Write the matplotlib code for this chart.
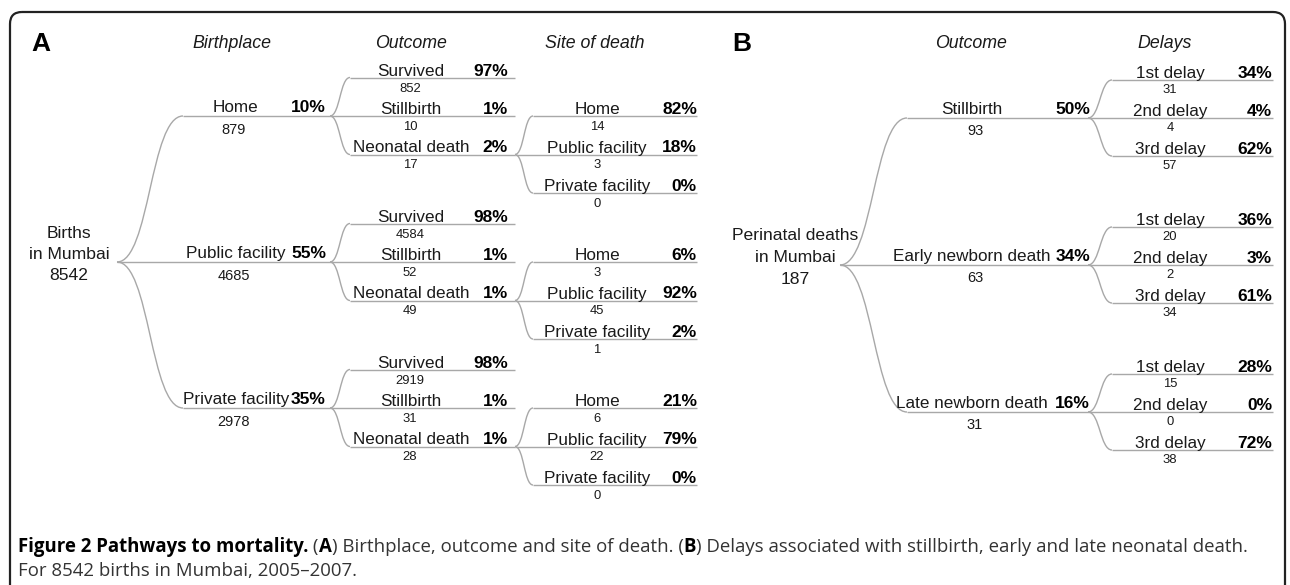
import matplotlib
matplotlib.use("Agg")
import matplotlib.pyplot as plt
from matplotlib.path import Path
from matplotlib.patches import PathPatch, FancyBboxPatch

# ---------------- data ----------------
root_a = ["Births", "in Mumbai", "8542"]
birthplace_labels = ["Home", "Public facility", "Private facility"]
birthplace_pct = [10, 55, 35]
birthplace_n = [879, 4685, 2978]
outcome_labels = ["Survived", "Stillbirth", "Neonatal death"]
outcome_pct = [[97, 1, 2], [98, 1, 1], [98, 1, 1]]
outcome_n = [[852, 10, 17], [4584, 52, 49], [2919, 31, 28]]
site_labels = ["Home", "Public facility", "Private facility"]
site_pct = [[82, 18, 0], [6, 92, 2], [21, 79, 0]]
site_n = [[14, 3, 0], [3, 45, 1], [6, 22, 0]]
headers_a = ["Birthplace", "Outcome", "Site of death"]

root_b = ["Perinatal deaths", "in Mumbai", "187"]
b_outcome_labels = ["Stillbirth", "Early newborn death", "Late newborn death"]
b_outcome_pct = [50, 34, 16]
b_outcome_n = [93, 63, 31]
delay_labels = ["1st delay", "2nd delay", "3rd delay"]
delay_pct = [[34, 4, 62], [36, 3, 61], [28, 0, 72]]
delay_n = [[31, 4, 57], [20, 2, 34], [15, 0, 38]]
headers_b = ["Outcome", "Delays"]

caption_bold = "Figure 2 Pathways to mortality."
caption_parts = [(" (", False), ("A", True), (") Birthplace, outcome and site of death. (", False),
                 ("B", True), (") Delays associated with stillbirth, early and late neonatal death.", False)]
caption_line2 = "For 8542 births in Mumbai, 2005\u20132007."

# ---------------- figure ----------------
W, H = 1290, 585
fig = plt.figure(figsize=(W / 100, H / 100), dpi=100)
ax = fig.add_axes([0, 0, 1, 1])
ax.set_xlim(0, W)
ax.set_ylim(H, 0)
ax.axis("off")

FONT = ["Liberation Sans", "DejaVu Sans"]
LINE_C = "#a8a8a8"
TXT_C = "#1a1a1a"
LBL = 12.3
PCT = 12.5
CNT1 = 10.5
CNT2 = 9.4

# border
ax.add_patch(FancyBboxPatch((10, 12), 1275, 620, boxstyle="round,pad=0,rounding_size=12",
                            fill=False, ec="#222222", lw=1.6))


def link(x0, y0, x1, y1):
    dx = x1 - x0
    verts = [(x0, y0), (x0 + dx * 0.5, y0), (x1 - dx * 0.5, y1), (x1, y1)]
    codes = [Path.MOVETO, Path.CURVE4, Path.CURVE4, Path.CURVE4]
    ax.add_patch(PathPatch(Path(verts, codes), fill=False, ec=LINE_C, lw=1.0))


def branch(xb, yb, xs, xe, ys):
    for y in ys:
        if abs(y - yb) < 0.5:
            ax.plot([xb, xe], [y, y], color=LINE_C, lw=1.0, solid_capstyle="butt")
        else:
            link(xb, yb, xs, y)
            ax.plot([xs, xe], [y, y], color=LINE_C, lw=1.0, solid_capstyle="butt")


def node_text(y, lbl, pct, n, xc, xr, xn, base_off, cnt_off, cnt_size):
    ax.text(xc, y - base_off, lbl, ha="center", va="baseline", fontsize=LBL,
            family=FONT, color=TXT_C)
    ax.text(xr, y - base_off, f"{pct}%", ha="right", va="baseline", fontsize=PCT,
            family=FONT, weight="bold", color="black")
    ax.text(xn, y + cnt_off, f"{n}", ha="center", va="center", fontsize=cnt_size,
            family=FONT, color=TXT_C)


def root_text(xc, y, lines):
    for i, s in enumerate(lines):
        ax.text(xc, y - 29 + i * 21.5, s, ha="center", va="center", fontsize=12.6,
                family=FONT, color=TXT_C)


# ---------------- panel A ----------------
ax.text(41, 44, "A", ha="center", va="center", fontsize=19, weight="bold", family=FONT)
for s, x in zip(headers_a, [232, 411, 595]):
    ax.text(x, 43, s, ha="center", va="center", fontsize=12.8, style="italic",
            family=FONT, color=TXT_C)

rootA = (117, 262)
root_text(69, rootA[1], root_a)
l1_gap, l2_gap = 146, 38.5
l1_y = [rootA[1] + (i - 1) * l1_gap for i in range(3)]
branch(rootA[0], rootA[1], 183, 330, l1_y)
for i, y1 in enumerate(l1_y):
    node_text(y1, birthplace_labels[i], birthplace_pct[i], birthplace_n[i],
              236, 326, 234, 4, 14, CNT1)
    l2_y = [y1 + (j - 1) * l2_gap for j in range(3)]
    branch(330, y1, 350, 515, l2_y)
    for j, y2 in enumerate(l2_y):
        node_text(y2, outcome_labels[j], outcome_pct[i][j], outcome_n[i][j],
                  411, 508, 410, 2, 11, CNT2)
    # site of death branches from the neonatal death line
    yd = l2_y[2]
    l3_y = [yd + (k - 1) * l2_gap for k in range(3)]
    branch(515, yd, 533, 697, l3_y)
    for k, y3 in enumerate(l3_y):
        node_text(y3, site_labels[k], site_pct[i][k], site_n[i][k],
                  597, 697, 597, 2, 11, CNT2)

# ---------------- panel B ----------------
ax.text(742, 44, "B", ha="center", va="center", fontsize=19, weight="bold", family=FONT)
for s, x in zip(headers_b, [971, 1165]):
    ax.text(x, 43, s, ha="center", va="center", fontsize=12.8, style="italic",
            family=FONT, color=TXT_C)

rootB = (840, 265)
root_text(795, rootB[1], root_b)
lb_gap, lb2_gap = 147, 38
lb_y = [rootB[1] + (i - 1) * lb_gap for i in range(3)]
branch(rootB[0], rootB[1], 907, 1088, lb_y)
for i, y1 in enumerate(lb_y):
    node_text(y1, b_outcome_labels[i], b_outcome_pct[i], b_outcome_n[i],
              972, 1090, 975, 4, 13, CNT1)
    l2_y = [y1 + (j - 1) * lb2_gap for j in range(3)]
    branch(1088, y1, 1112, 1273, l2_y)
    for j, y2 in enumerate(l2_y):
        node_text(y2, delay_labels[j], delay_pct[i][j], delay_n[i][j],
                  1170, 1272, 1170, 2, 10, CNT2)

# ---------------- caption ----------------
CAP_FONT = ["Open Sans", "DejaVu Sans"]
CAP = 13.4
fig.canvas.draw()
r = fig.canvas.get_renderer()
inv = ax.transData.inverted()
x = 18
t = ax.text(x, 547, caption_bold, ha="left", va="center", fontsize=CAP, weight="bold",
            family=CAP_FONT, color="black")
bb = t.get_window_extent(renderer=r)
x = inv.transform((bb.x1, bb.y0))[0]
for s, b in caption_parts:
    t = ax.text(x, 547, s, ha="left", va="center", fontsize=CAP,
                weight="bold" if b else "normal", family=CAP_FONT,
                color="black" if b else "#333333")
    bb = t.get_window_extent(renderer=r)
    x = inv.transform((bb.x1, bb.y0))[0]
ax.text(18, 571, caption_line2, ha="left", va="center", fontsize=CAP, family=CAP_FONT,
        color="#333333")

fig.savefig("out.png", dpi=100)
